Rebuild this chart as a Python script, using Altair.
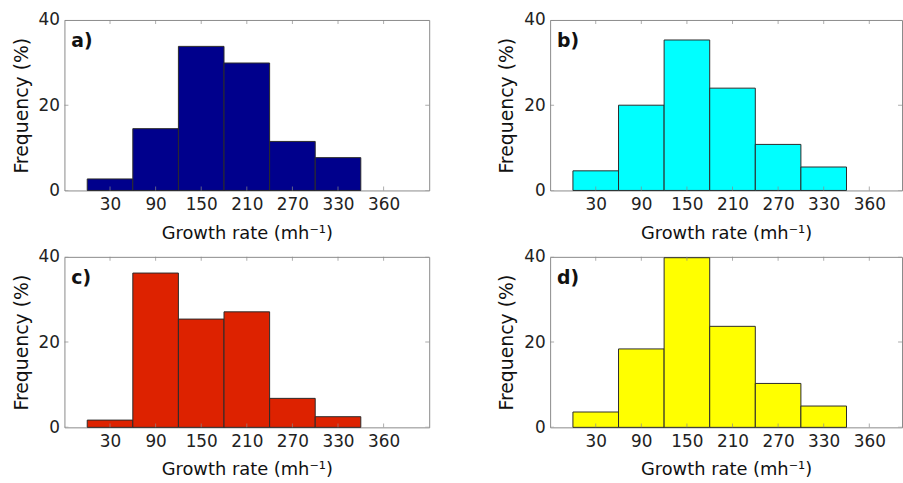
import altair as alt
import pandas as pd

bin_centers = [30, 90, 150, 210, 270, 330]
bin_width = 60
tick_positions = [30, 90, 150, 210, 270, 330, 390]
tick_labels = ["30", "90", "150", "210", "270", "330", "360"]
y_ticks = [0, 20, 40]

freq_a = [2.7, 14.5, 33.8, 29.9, 11.5, 7.7]
freq_b = [4.6, 20.0, 35.3, 24.0, 10.8, 5.5]
freq_c = [1.7, 36.2, 25.4, 27.1, 6.8, 2.5]
freq_d = [3.6, 18.4, 39.8, 23.7, 10.3, 5.0]

panel_labels = ["a)", "b)", "c)", "d)"]
colors = ["#00008c", "#00ffff", "#dd2200", "#ffff00"]

FRAME = "#8a8a8a"
FONT = "DejaVu Sans"

label_expr = "".join(
    f"datum.value == {p} ? '{l}' : " for p, l in zip(tick_positions, tick_labels)
) + "datum.label"


def panel(freqs, color, label, width, xmax):
    df = pd.DataFrame({
        "start": [c - bin_width / 2 for c in bin_centers],
        "end": [c + bin_width / 2 for c in bin_centers],
        "freq": freqs,
        "base": [0] * len(freqs),
    })
    x_enc = alt.X(
        "start:Q",
        scale=alt.Scale(domain=[-30, xmax], nice=False, zero=False),
        axis=alt.Axis(values=tick_positions, labelExpr=label_expr,
                      title="Growth rate (mh⁻¹)", grid=False, ticks=False,
                      domain=False, labelPadding=6, titlePadding=12,
                      titleFontSize=18, labelFlush=False),
    )
    y_enc = alt.Y(
        "freq:Q",
        scale=alt.Scale(domain=[0, 40], nice=False),
        axis=alt.Axis(values=y_ticks, title="Frequency (%)", grid=False,
                      ticks=False, domain=False, labelPadding=5,
                      titlePadding=7, titleFontSize=19, labelFlush=False),
    )
    bars = alt.Chart(df).mark_bar(
        color=color, stroke="#2a2a2a", strokeWidth=1, opacity=1
    ).encode(x=x_enc, x2="end:Q", y=y_enc, y2="base:Q")

    xt = pd.DataFrame({
        "start": tick_positions * 2,
        "freq": [0] * len(tick_positions) + [40] * len(tick_positions),
    })
    xticks = alt.Chart(xt).mark_tick(
        orient="vertical", size=8, thickness=1, color=FRAME, clip=True
    ).encode(x=x_enc, y=y_enc)

    yt = pd.DataFrame({
        "start": [-30] * len(y_ticks) + [xmax] * len(y_ticks),
        "freq": y_ticks * 2,
    })
    yticks = alt.Chart(yt).mark_tick(
        orient="horizontal", size=8, thickness=1, color=FRAME, clip=True
    ).encode(x=x_enc, y=y_enc)

    txt = alt.Chart(pd.DataFrame({"lab": [label]})).mark_text(
        font=FONT, fontSize=19, fontWeight="bold", align="left",
        baseline="middle", color="#111"
    ).encode(text="lab:N", x=alt.value(7), y=alt.value(21))

    return alt.layer(bars, xticks, yticks, txt).properties(width=width, height=172)


LW, RW = 368, 355
L_MAX = -30 + LW / (368 / 480)
R_MAX = -30 + RW / (368 / 480)

pa = panel(freq_a, colors[0], panel_labels[0], LW, L_MAX)
pb = panel(freq_b, colors[1], panel_labels[1], RW, R_MAX)
pc = panel(freq_c, colors[2], panel_labels[2], LW, L_MAX)
pd_ = panel(freq_d, colors[3], panel_labels[3], RW, R_MAX)

row1 = alt.hconcat(pa, pb, spacing=67)
row2 = alt.hconcat(pc, pd_, spacing=67)

chart = alt.vconcat(row1, row2, spacing=4).properties(
    padding={"left": 11, "top": 8, "right": 0, "bottom": 0},
    background="white",
).configure_axis(
    labelFont=FONT, labelFontSize=17, labelColor="#222",
    titleFont=FONT, titleFontWeight="normal", titleColor="#111",
).configure_view(
    stroke=FRAME, strokeWidth=1
)

chart.save("out.html", embed_options={"renderer": "svg", "actions": False})
